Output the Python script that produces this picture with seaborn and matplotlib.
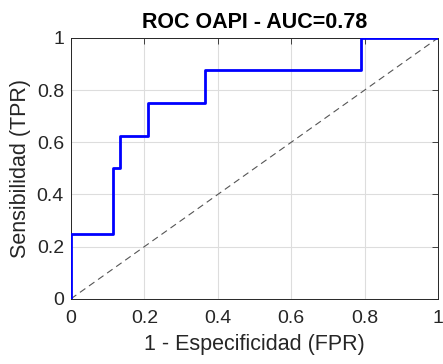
import matplotlib
matplotlib.use("Agg")
import matplotlib.pyplot as plt
import seaborn as sns
import pandas as pd

fpr = [0, 0, 0.115, 0.115, 0.135, 0.135, 0.21, 0.21, 0.365, 0.365, 0.79, 0.79, 1.0]
tpr = [0, 0.25, 0.25, 0.5, 0.5, 0.625, 0.625, 0.75, 0.75, 0.875, 0.875, 1.0, 1.0]
diag = [0, 1]
xticks = [0, 0.2, 0.4, 0.6, 0.8, 1]
xticklabels = ["0", "0.2", "0.4", "0.6", "0.8", "1"]
yticks = [0, 0.2, 0.4, 0.6, 0.8, 1]
yticklabels = ["0", "0.2", "0.4", "0.6", "0.8", "1"]
title = "ROC OAPI - AUC=0.78"
xlabel = "1 - Especificidad (FPR)"
ylabel = "Sensibilidad (TPR)"

sns.set_style("white")
plt.rcParams['font.family'] = ['Liberation Sans', 'DejaVu Sans']

fig = plt.figure(figsize=(4.43, 3.64), dpi=100)
ax = fig.add_axes([0.160, 0.179, 0.829, 0.717])

df = pd.DataFrame({"fpr": fpr, "tpr": tpr})
sns.lineplot(data=df, x="fpr", y="tpr", sort=False, estimator=None,
             color="#0000ff", linewidth=2, ax=ax, zorder=3)
ax.plot(diag, diag, linestyle=(0, (6, 4)), color="#555555", linewidth=0.8, zorder=2)

ax.set_xlim(0, 1)
ax.set_ylim(0, 1)
ax.set_xticks(xticks)
ax.set_xticklabels(xticklabels)
ax.set_yticks(yticks)
ax.set_yticklabels(yticklabels)
ax.grid(True, color="#dddddd", linewidth=0.8)
ax.set_axisbelow(True)
ax.tick_params(direction="in", length=4, width=0.6, colors="#262626",
               labelsize=14, top=True, right=True)
ax.tick_params(axis="x", pad=8)
ax.tick_params(axis="y", pad=5)
for lbl in ax.get_xticklabels() + ax.get_yticklabels():
    lbl.set_color("#262626")
for s in ax.spines.values():
    s.set_color("#262626")
    s.set_linewidth(0.7)
ax.set_xlabel(xlabel, fontsize=15.5, color="#262626", labelpad=5)
ax.set_ylabel(ylabel, fontsize=15.5, color="#262626", labelpad=4)
ax.set_title(title, fontsize=15.5, fontweight="bold", color="#000000", pad=7)

fig.savefig("out.png", dpi=100)
